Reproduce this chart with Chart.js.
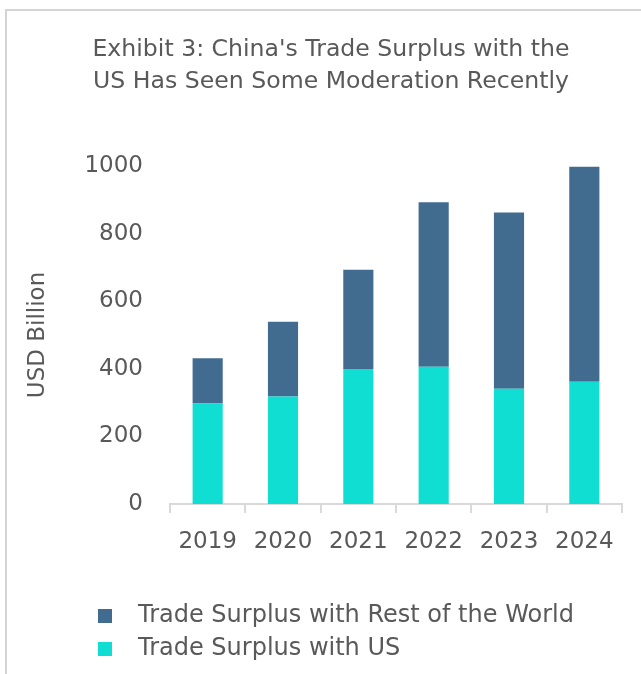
<!DOCTYPE html>
<html>
<head>
<meta charset="utf-8">
<script src="https://cdn.jsdelivr.net/npm/chart.js@4.4.0/dist/chart.umd.min.js"></script>
<style>
  html, body { margin: 0; padding: 0; background: #ffffff; overflow: hidden; }
  #wrap { position: relative; width: 641px; height: 674px; overflow: hidden; }
  #frameL { position: absolute; left: 5px; top: 9px; width: 2px; height: 665px; background: #d4d4d4; }
  #frameT { position: absolute; left: 5px; top: 9px; width: 636px; height: 2px; background: #d4d4d4; }
  #c { position: absolute; left: 0; top: 0; }
</style>
</head>
<body>
<div id="wrap">
  <div id="frameL"></div>
  <div id="frameT"></div>
  <canvas id="c" width="641" height="674"></canvas>
</div>
<script>
const titleLines = ["Exhibit 3: China's Trade Surplus with the", "US Has Seen Some Moderation Recently"];
const yAxisTitle = "USD Billion";
const years = ["2019", "2020", "2021", "2022", "2023", "2024"];
const surplusUS = [297, 318, 399, 406, 341, 362];
const surplusRestOfWorld = [134, 221, 294, 487, 521, 636];
const seriesNames = ["Trade Surplus with US", "Trade Surplus with Rest of the World"];
const yTicks = [0, 200, 400, 600, 800, 1000];

const FONT = "'DejaVu Sans', sans-serif";
const TXT = '#595959';
const colUS = '#10ded3';
const colRW = '#416b8f';

function swatch(color) {
  const cv = document.createElement('canvas');
  cv.width = 28; cv.height = 14;
  const g = cv.getContext('2d');
  g.fillStyle = color;
  g.fillRect(0, 0, 14, 14);
  return cv;
}

const blockShift = {
  id: 'blockShift',
  beforeDraw(chart) {
    if (chart.legend) chart.legend.left = 89;
    if (chart.titleBlock) chart.titleBlock.left = chart.titleBlock.left + 16;
  }
};

new Chart(document.getElementById('c'), {
  type: 'bar',
  data: {
    labels: years,
    datasets: [
      { label: seriesNames[0], data: surplusUS, backgroundColor: colUS, borderWidth: 0 },
      { label: seriesNames[1], data: surplusRestOfWorld, backgroundColor: colRW, borderWidth: 0 }
    ]
  },
  options: {
    responsive: false,
    animation: false,
    devicePixelRatio: 1,
    layout: { padding: { left: 24, right: 19, top: 0, bottom: 3 } },
    datasets: { bar: { categoryPercentage: 1, barPercentage: 0.4 } },
    plugins: {
      tooltip: { enabled: false },
      title: {
        display: true,
        text: titleLines,
        color: TXT,
        font: { family: FONT, size: 23.6, weight: 'normal', lineHeight: 1.355 },
        padding: { top: 34, bottom: 68 }
      },
      legend: {
        display: true,
        position: 'bottom',
        align: 'start',
        reverse: true,
        labels: {
          color: TXT,
          font: { family: FONT, size: 24 },
          usePointStyle: true,
          pointStyleWidth: 28,
          boxHeight: 14,
          padding: 9,
          generateLabels(chart) {
            const items = Chart.defaults.plugins.legend.labels.generateLabels(chart);
            items.forEach(it => { it.pointStyle = swatch(it.fillStyle); });
            return items;
          }
        }
      }
    },
    scales: {
      x: {
        stacked: true,
        offset: true,
        grid: { display: true, offset: true, drawOnChartArea: false, drawTicks: true, tickLength: 9, color: '#d9d9d9', lineWidth: 2 },
        border: { display: true, color: '#d9d9d9', width: 2 },
        ticks: { color: TXT, font: { family: FONT, size: 23 }, padding: 15, maxRotation: 0 },
        afterFit(scale) { scale.height = 91; }
      },
      y: {
        stacked: true,
        min: 0,
        max: 1000,
        afterBuildTicks(scale) { scale.ticks = yTicks.map(v => ({ value: v })); },
        grid: { display: false, drawTicks: false },
        border: { display: false },
        ticks: { color: TXT, font: { family: FONT, size: 23 }, padding: 27, callback: v => String(v) },
        title: { display: true, text: yAxisTitle, color: TXT, font: { family: FONT, size: 23 }, padding: { top: 0, bottom: 0 } },
        afterFit(scale) { scale.width = 146; }
      }
    }
  },
  plugins: [blockShift]
});
</script>
</body>
</html>
